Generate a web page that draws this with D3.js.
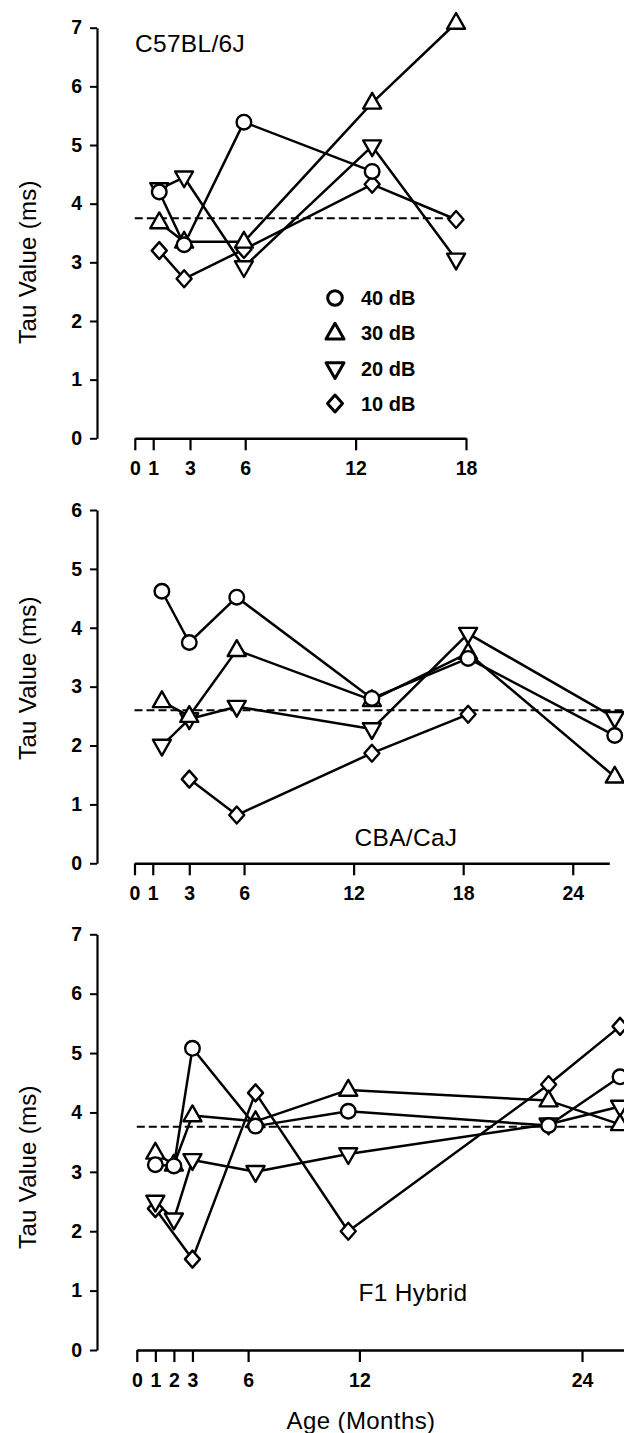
<!DOCTYPE html>
<html>
<head>
<meta charset="utf-8">
<script src="https://cdn.jsdelivr.net/npm/d3@7"></script>
<style>
  html, body { margin: 0; padding: 0; background: #fff; }
  svg { display: block; }
  text { font-family: "Liberation Sans", Arial, Helvetica, sans-serif; fill: #000; }
</style>
</head>
<body>
<svg id="chart" width="624" height="1433"></svg>
<script>
// ---------------- DATA ----------------
const seriesNames = ["40 dB", "30 dB", "20 dB", "10 dB"];

// C57BL/6J
const c57Ages = [1.33, 2.68, 5.93, 12.9, 17.46];
const c57_40 = [4.2, 3.3, 5.39, 4.55, null];
const c57_30 = [3.68, 3.35, 3.35, 5.72, 7.08];
const c57_20 = [4.25, 4.45, 2.92, 4.98, 3.05];
const c57_10 = [3.2, 2.72, 3.22, 4.33, 3.73];
const c57Mean = 3.75;
const c57XTicks = [0, 1, 3, 6, 12, 18];
const c57YTicks = [0, 1, 2, 3, 4, 5, 6, 7];

// CBA/CaJ
const cbaAges = [1.5, 3.0, 5.6, 13.0, 18.27, 26.3];
const cba_40 = [4.62, 3.75, 4.52, 2.8, 3.48, 2.17];
const cba_30 = [2.75, 2.5, 3.62, 2.77, 3.57, 1.47];
const cba_20 = [2.0, 2.45, 2.66, 2.28, 3.9, 2.47];
const cba_10 = [null, 1.43, 0.82, 1.87, 2.53, null];
const cbaMean = 2.6;
const cbaXTicks = [0, 1, 3, 6, 12, 18, 24];
const cbaYTicks = [0, 1, 2, 3, 4, 5, 6];

// F1 Hybrid
const f1Ages = [1, 2, 3, 6.4, 11.4, 22.2, 26.05];
const f1_40 = [3.12, 3.1, 5.08, 3.77, 4.02, 3.78, 4.6];
const f1_30 = [3.32, 3.12, 3.95, 3.85, 4.38, 4.2, 3.8];
const f1_20 = [2.5, 2.2, 3.2, 3.0, 3.3, 3.8, 4.1];
const f1_10 = [2.38, null, 1.53, 4.33, 2.0, 4.47, 5.45];
const f1Mean = 3.76;
const f1XTicks = [0, 1, 2, 3, 6, 12, 24];
const f1YTicks = [0, 1, 2, 3, 4, 5, 6, 7];

// ---------------- LAYOUT ----------------
const panels = [
  { name: "C57BL/6J", ages: c57Ages, series: [c57_40, c57_30, c57_20, c57_10], mean: c57Mean,
    xTicks: c57XTicks, yTicks: c57YTicks,
    xDomain: [0, 18], xRange: [134.8, 466], yDomain: [0, 7], yRange: [438.3, 27.7],
    meanEnd: 17.2, label: { x: 135, y: 43, anchor: "start" }, yLabelY: 262 },
  { name: "CBA/CaJ", ages: cbaAges, series: [cba_40, cba_30, cba_20, cba_10], mean: cbaMean,
    xTicks: cbaXTicks, yTicks: cbaYTicks,
    xDomain: [0, 26], xRange: [134.5, 134.5 + 26 * 18.26], yDomain: [0, 6], yRange: [863.3, 510],
    meanEnd: 27, label: { x: 406, y: 837, anchor: "middle" }, yLabelY: 678 },
  { name: "F1 Hybrid", ages: f1Ages, series: [f1_40, f1_30, f1_20, f1_10], mean: f1Mean,
    xTicks: f1XTicks, yTicks: f1YTicks,
    xDomain: [0, 26.6], xRange: [136.8, 136.8 + 26.6 * 18.55], yDomain: [0, 7], yRange: [1350, 934.3],
    meanEnd: 27, label: { x: 413, y: 1292, anchor: "middle" }, yLabelY: 1167 }
];

const yAxisX = 97;

// marker paths
const shapes = [
  g => g.append("circle").attr("r", 7.3),
  g => g.append("path").attr("d", "M0,-10L9,5.8L-9,5.8Z"),
  g => g.append("path").attr("d", "M0,10L9,-5.8L-9,-5.8Z"),
  g => g.append("path").attr("d", "M0,-8.5L7.5,0L0,8.5L-7.5,0Z")
];

const svg = d3.select("#chart");

panels.forEach(p => {
  const x = d3.scaleLinear().domain(p.xDomain).range(p.xRange);
  const y = d3.scaleLinear().domain(p.yDomain).range(p.yRange);
  const g = svg.append("g");

  // y axis
  const ya = g.append("g").attr("transform", `translate(${yAxisX},0)`)
    .call(d3.axisLeft(y).tickValues(p.yTicks).tickSize(7).tickSizeOuter(0).tickPadding(8).tickFormat(d3.format("d")));
  ya.select(".domain").attr("stroke", "#000").attr("stroke-width", 2.2);
  ya.selectAll(".tick line").attr("stroke", "#000").attr("stroke-width", 2);
  ya.selectAll(".tick text").attr("font-size", 19.5).attr("font-weight", "bold")
    .attr("font-family", "'Liberation Sans', Arial, sans-serif").attr("fill", "#000");

  // x axis
  const xa = g.append("g").attr("transform", `translate(0,${y(0)})`)
    .call(d3.axisBottom(x).tickValues(p.xTicks).tickSize(12).tickSizeOuter(0).tickPadding(11).tickFormat(d3.format("d")));
  xa.select(".domain").attr("stroke", "#000").attr("stroke-width", 2.6);
  xa.selectAll(".tick line").attr("stroke", "#000").attr("stroke-width", 2.2);
  xa.selectAll(".tick text").attr("font-size", 19.5).attr("font-weight", "bold")
    .attr("font-family", "'Liberation Sans', Arial, sans-serif").attr("fill", "#000");

  // mean dashed line
  g.append("line")
    .attr("x1", x(0)).attr("x2", x(p.meanEnd))
    .attr("y1", y(p.mean)).attr("y2", y(p.mean))
    .attr("stroke", "#000").attr("stroke-width", 2).attr("stroke-dasharray", "8,4");

  const line = d3.line().x(d => x(d[0])).y(d => y(d[1]));

  const ptsBySeries = p.series.map(vals =>
    p.ages.map((a, i) => [a, vals[i]]).filter(d => d[1] !== null));

  // lines
  ptsBySeries.forEach(pts => {
    g.append("path").datum(pts).attr("d", line)
      .attr("fill", "none").attr("stroke", "#000").attr("stroke-width", 2.5)
      .attr("stroke-linejoin", "round");
  });

  // markers (draw 10 dB first so 40 dB on top)
  for (let s = ptsBySeries.length - 1; s >= 0; s--) {
    ptsBySeries[s].forEach(d => {
      const mg = g.append("g").attr("transform", `translate(${x(d[0])},${y(d[1])})`);
      shapes[s](mg).attr("fill", "#fff").attr("stroke", "#000").attr("stroke-width", 2.4)
        .attr("stroke-linejoin", "round");
    });
  }

  // panel label
  g.append("text").attr("x", p.label.x).attr("y", p.label.y)
    .attr("text-anchor", p.label.anchor).attr("dominant-baseline", "central")
    .attr("font-size", 24.5).attr("letter-spacing", 0.3).text(p.name);

  // y label
  g.append("text").attr("transform", `translate(36,${p.yLabelY}) rotate(-90)`)
    .attr("text-anchor", "middle").attr("font-size", 24).attr("letter-spacing", 0.3)
    .text("Tau Value (ms)");
});

// legend (top panel)
const legendX = 335, legendTextX = 361;
const legendYs = [298, 333.3, 368.5, 403.5];
seriesNames.forEach((nm, i) => {
  const mg = svg.append("g").attr("transform", `translate(${legendX},${legendYs[i]})`);
  shapes[i](mg).attr("fill", "#fff").attr("stroke", "#000").attr("stroke-width", 3)
    .attr("stroke-linejoin", "round");
  svg.append("text").attr("x", legendTextX).attr("y", legendYs[i])
    .attr("dominant-baseline", "central").attr("font-size", 20).attr("font-weight", "bold")
    .text(nm);
});

// x-axis title
svg.append("text").attr("x", 361).attr("y", 1420).attr("text-anchor", "middle")
  .attr("dominant-baseline", "central").attr("font-size", 24).attr("letter-spacing", 0.4)
  .text("Age (Months)");
</script>
</body>
</html>
